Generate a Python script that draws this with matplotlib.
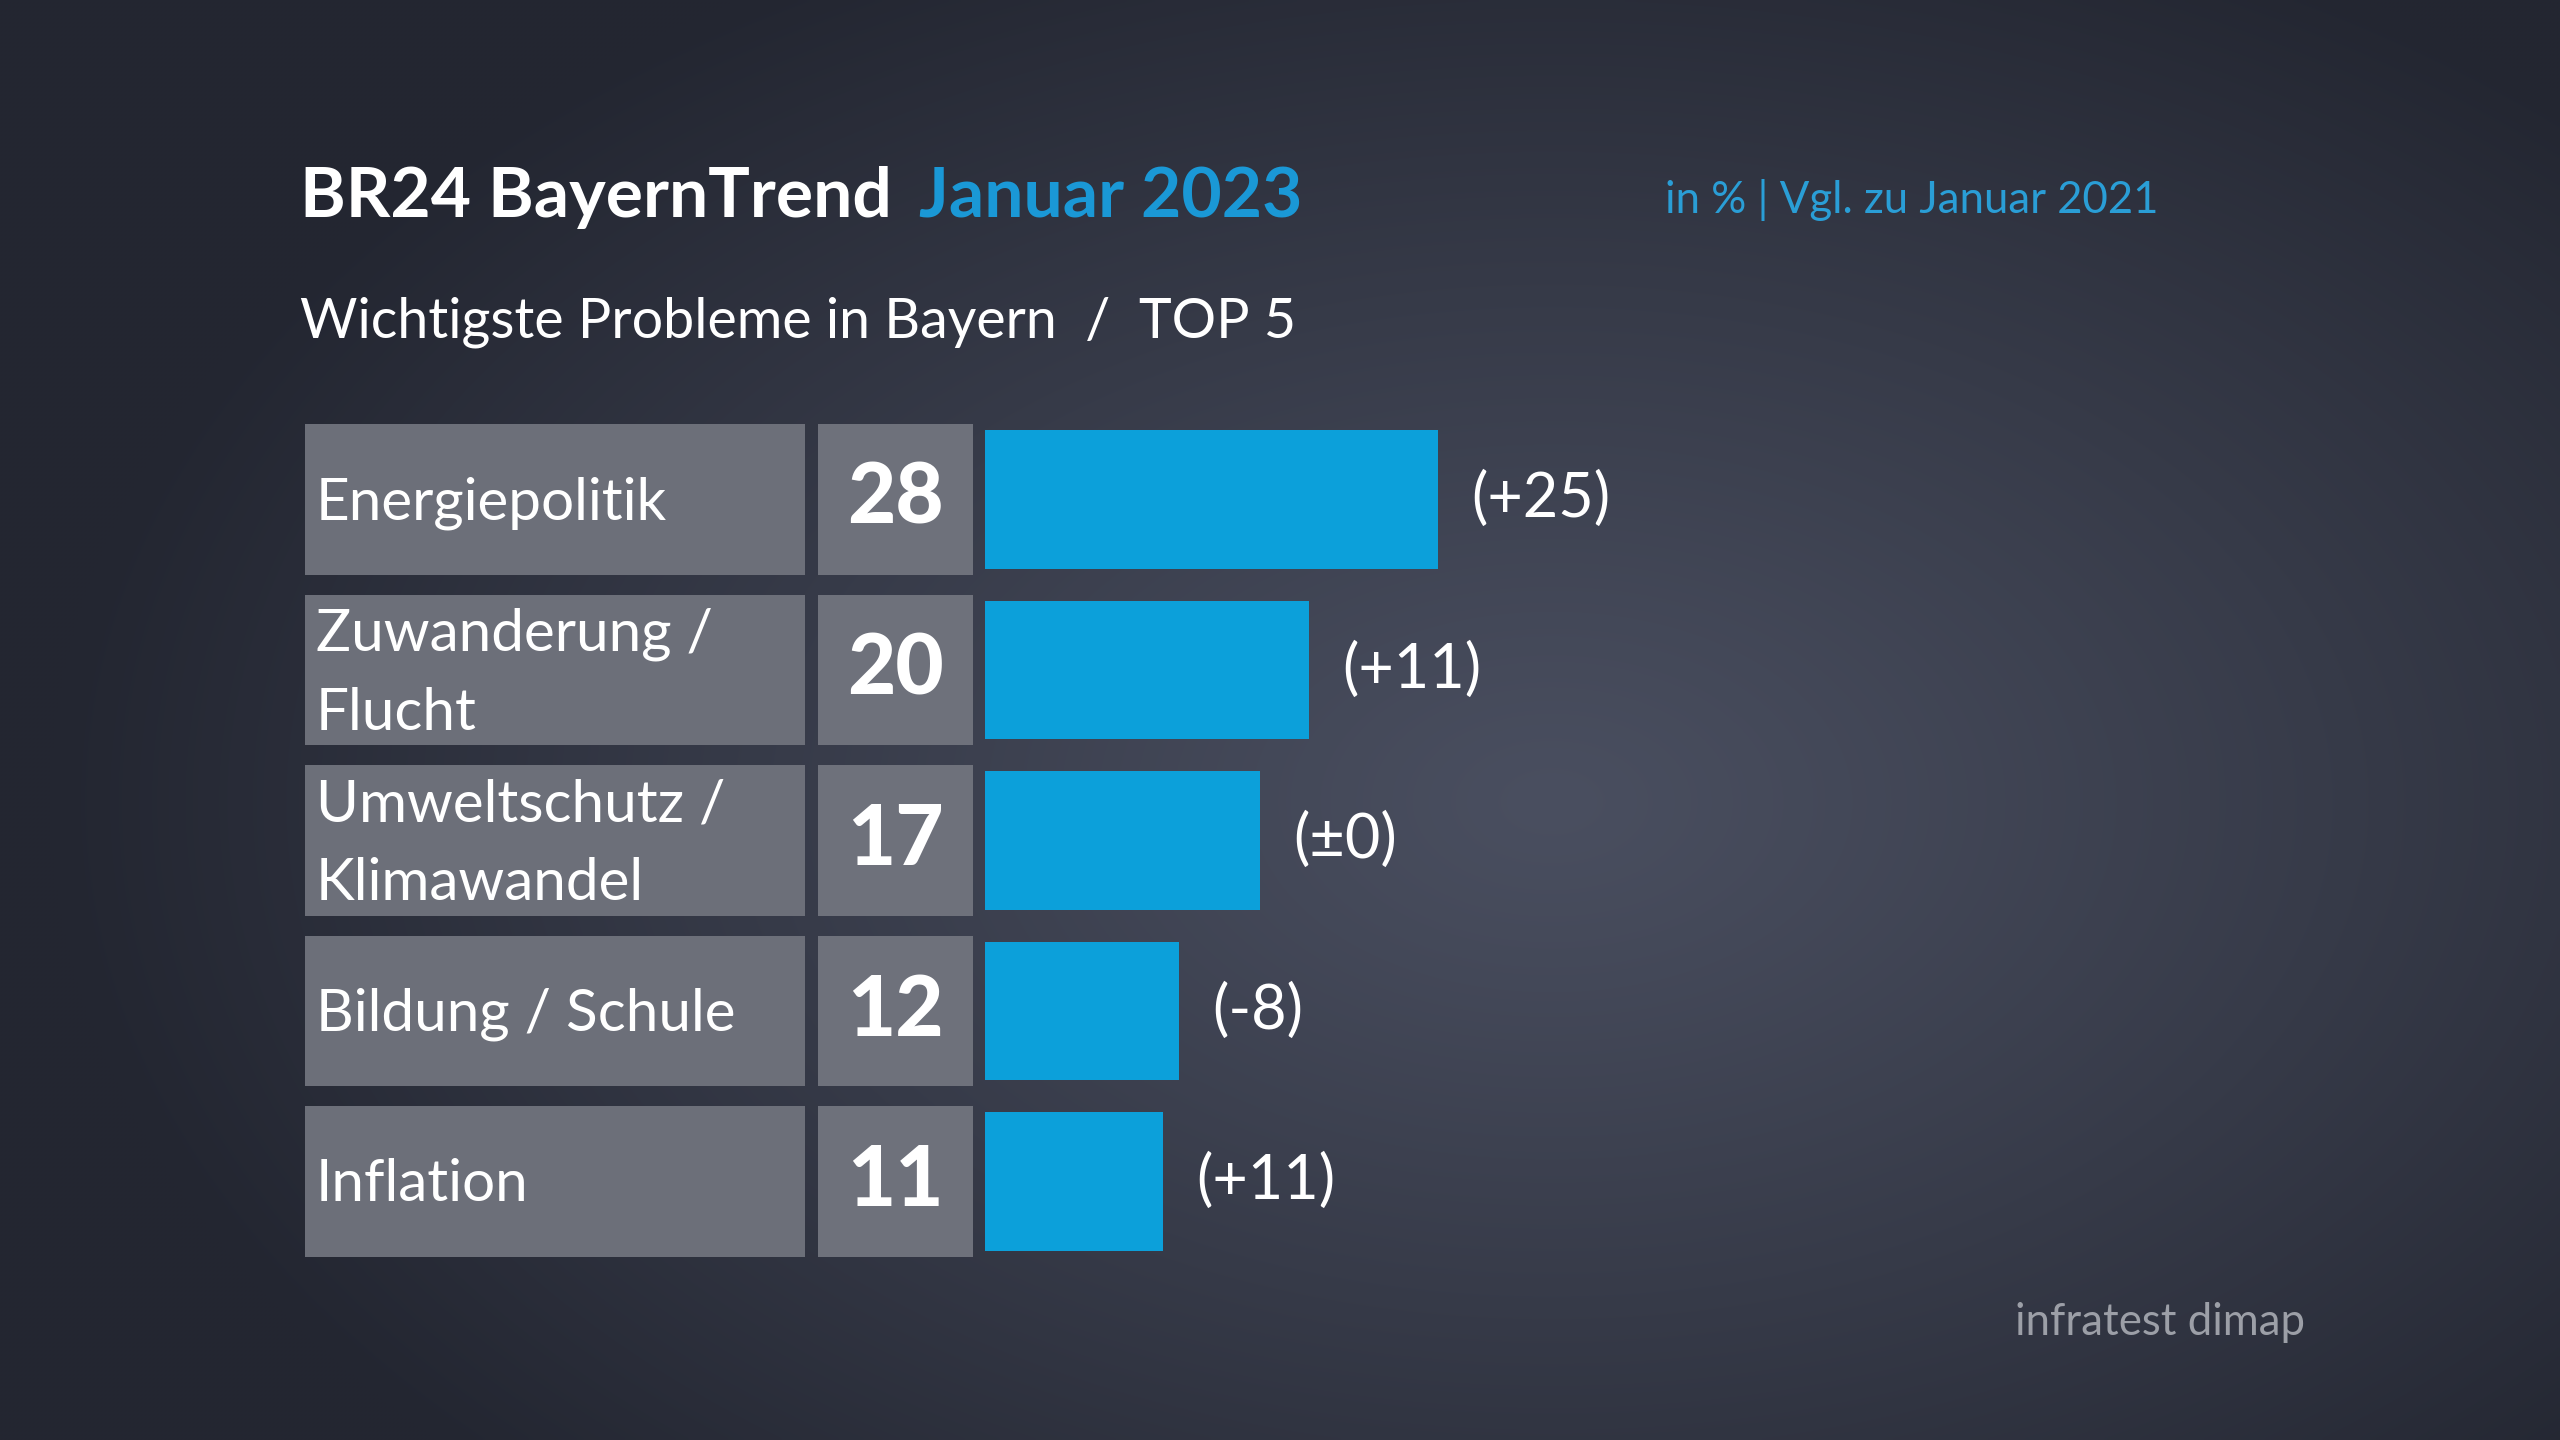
import numpy as np
import matplotlib.pyplot as plt
from matplotlib.patches import Rectangle
from matplotlib.transforms import blended_transform_factory

plt.rcParams['font.family'] = ['Lato', 'DejaVu Sans']

# Daten
kategorien = ['Energiepolitik', 'Zuwanderung /\nFlucht', 'Umweltschutz /\nKlimawandel',
              'Bildung / Schule', 'Inflation']
werte = [28, 20, 17, 12, 11]
veraenderung = ['(+25)', '(+11)', '(±0)', '(-8)', '(+11)']

titel = 'BR24 BayernTrend'
titel_monat = 'Januar 2023'
untertitel = 'Wichtigste Probleme in Bayern  /  TOP 5'
hinweis = 'in % | Vgl. zu Januar 2021'
quelle = 'infratest dimap'

W, H = 2560, 1440
BLAU = '#0ca0da'
GRAU_BOX = '#6c6f79'

fig = plt.figure(figsize=(W / 100, H / 100), dpi=100)

# Hintergrund mit radialem Verlauf
bg = fig.add_axes([0, 0, 1, 1], zorder=-10)
yy, xx = np.mgrid[0:H:4, 0:W:4]
d = np.sqrt(((xx - 1550) / 1500) ** 2 + ((yy - 800) / 950) ** 2)
d = np.clip(d, 0, 1) ** 1.1
innen = np.array([0x4a, 0x4f, 0x60]) / 255
aussen = np.array([0x23, 0x26, 0x31]) / 255
bild = innen + (aussen - innen) * d[..., None]
bg.imshow(bild, extent=[0, W, H, 0], aspect='auto', interpolation='bilinear')
bg.axis('off')

# Balkenachse: 16.2 px pro Prozentpunkt
px_einheit = 16.2
x0 = 984.5
zeile_oben = 414.25
zeile_h = 170.5
n = len(werte)
ax = fig.add_axes([x0 / W, 1 - (zeile_oben + n * zeile_h) / H,
                   40 * px_einheit / W, n * zeile_h / H])
ax.set_xlim(0, 40)
ax.set_ylim(n - 0.5, -0.5)
ax.axis('off')

y = np.arange(n)
ax.barh(y, werte, height=0.81, color=BLAU)

trans = blended_transform_factory(fig.transFigure, ax.transData)
for i, (kat, wert, ver) in enumerate(zip(kategorien, werte, veraenderung)):
    box = Rectangle((305 / W, i - 0.44), 500 / W, 0.88, transform=trans,
                    facecolor=GRAU_BOX, edgecolor='none', clip_on=False)
    ax.add_patch(box)
    box2 = Rectangle((818 / W, i - 0.44), 155 / W, 0.88, transform=trans,
                     facecolor='#6e717b', edgecolor='none', clip_on=False)
    ax.add_patch(box2)
    ax.text(316 / W, i + 0.02, kat, transform=trans, color='white', fontsize=42,
            va='center', ha='left', linespacing=1.6)
    ax.text(895.5 / W, i, str(wert), transform=trans, color='white', fontsize=60,
            fontweight='black', va='center', ha='center')
    ax.annotate(ver, xy=(wert, i), xytext=(24, 0), textcoords='offset points',
                color='white', fontsize=44, va='center', ha='left')

# Titel
fig.text(300 / W, 1 - 217 / H, titel, color='white', fontsize=50, fontweight='bold',
         va='baseline', ha='left')
fig.text(919 / W, 1 - 217 / H, titel_monat, color='#1a98d6', fontsize=50, fontweight='bold',
         va='baseline', ha='left')
fig.text(300 / W, 1 - 337 / H, untertitel, color='white', fontsize=40,
         va='baseline', ha='left')
fig.text(1665 / W, 1 - 213 / H, hinweis, color='#2a9ed6', fontsize=31.5,
         va='baseline', ha='left')
fig.text(2305 / W, 1 - 1335 / H, quelle, color='#9c9fa7', fontsize=31.5,
         va='baseline', ha='right')

fig.savefig('out.png', dpi=100)
